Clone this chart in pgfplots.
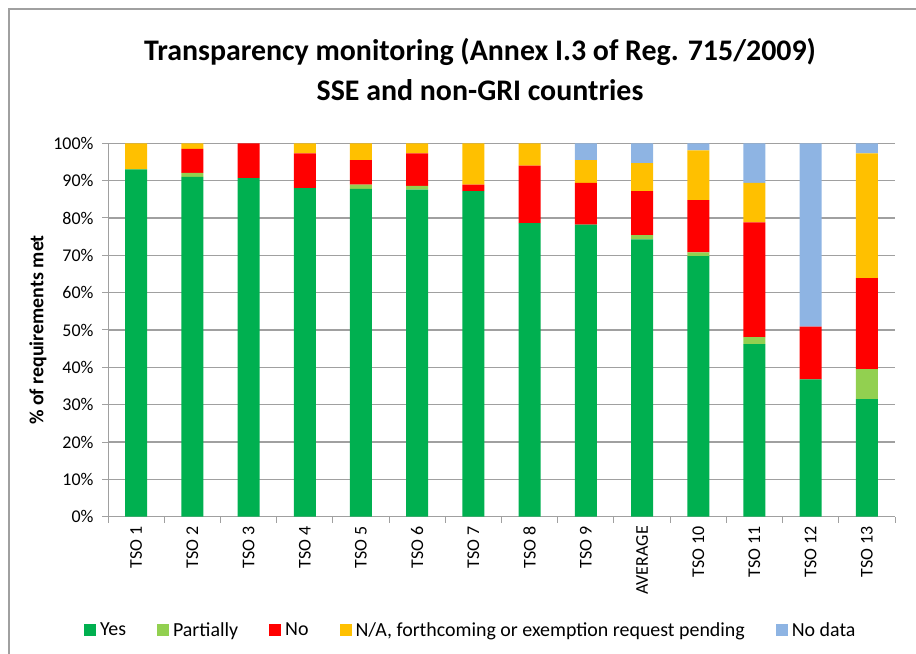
\documentclass[border=0pt]{standalone}
\usepackage{pgfplots}
\usepackage{pgfplotstable}
\pgfplotsset{compat=1.18}
\usepackage{fontspec}
\setmainfont{Carlito}
\definecolor{cyes}{HTML}{00B050}
\definecolor{cpart}{HTML}{92D050}
\definecolor{cno}{HTML}{FF0000}
\definecolor{cna}{HTML}{FFC000}
\definecolor{cnd}{HTML}{8EB4E3}
\definecolor{gridc}{HTML}{A0A0A0}
\pgfplotstableread{
x yes part no na nd
0 93.0 0 0 7.0 0
1 91.0 1.1 6.4 1.5 0
2 90.7 0 9.3 0 0
3 88.0 0 9.3 2.7 0
4 87.8 1.1 6.6 4.5 0
5 87.6 1.0 8.7 2.7 0
6 87.2 0 1.7 11.1 0
7 78.6 0 15.4 6.0 0
8 78.2 0 11.2 6.1 4.5
9 74.3 1.1 11.8 7.5 5.3
10 69.8 1.0 14.0 13.3 1.9
11 46.2 1.9 30.7 10.6 10.6
12 36.8 0 14.1 0 49.1
13 31.5 8.0 24.4 33.4 2.7
}\datatable
\begin{document}
\begin{tikzpicture}[x=1bp,y=1bp]
\path[use as bounding box] (0,0) rectangle (916,654);
\draw[gridc, line width=1.2bp] (9,0) -- (9,645) -- (916,645);
\node[font=\fontsize{30}{34}\selectfont\bfseries, align=center] at (480,654-52) {Transparency monitoring (Annex I.3 of Reg. 715/2009)};
\node[font=\fontsize{30}{34}\selectfont\bfseries, align=center] at (480,654-90) {SSE and non-GRI countries};
\begin{axis}[
  at={(108bp,137.3bp)}, anchor=south west,
  scale only axis, width=787bp, height=373.4bp,
  ybar stacked, bar width=22bp,
  xmin=-0.5, xmax=13.5, ymin=0, ymax=100,
  axis x line*=bottom, axis y line*=left,
  axis line style={gridc, line width=1bp, -},
  xtick=data,
  xticklabels={TSO 1,TSO 2,TSO 3,TSO 4,TSO 5,TSO 6,TSO 7,TSO 8,TSO 9,AVERAGE,TSO 10,TSO 11,TSO 12,TSO 13},
  x tick label style={rotate=90, anchor=east, font=\fontsize{18}{20}\selectfont},
  major x tick style={draw=none},
  minor xtick={-0.5,0.5,...,13.5},
  minor x tick style={gridc, line width=1bp},
  minor tick length=6bp,
  ytick={0,10,...,100},
  yticklabels={0\%,10\%,20\%,30\%,40\%,50\%,60\%,70\%,80\%,90\%,100\%},
  y tick label style={font=\fontsize{18}{20}\selectfont, xshift=-5bp},
  major y tick style={gridc, line width=1bp},
  major tick length=6bp,
  tick align=outside,
  ymajorgrids, grid style={gridc, line width=1.4bp},
  ylabel={\bfseries \% of requirements met},
  ylabel style={font=\fontsize{20}{22}\selectfont},
  legend columns=5,
  legend style={at={(0.461,-0.3035)}, anchor=center, draw=none, font=\fontsize{20}{22}\selectfont,
    /tikz/every even column/.append style={column sep=29bp},
    /tikz/every odd column/.append style={column sep=2bp}},
  legend image code/.code={\fill[#1] (0bp,-6bp) rectangle (12bp,6bp);},
]
\addplot[fill=cyes, draw=none] table[x=x,y=yes]{\datatable};
\addplot[fill=cpart, draw=none] table[x=x,y=part]{\datatable};
\addplot[fill=cno, draw=none] table[x=x,y=no]{\datatable};
\addplot[fill=cna, draw=none] table[x=x,y=na]{\datatable};
\addplot[fill=cnd, draw=none] table[x=x,y=nd]{\datatable};
\legend{Yes,Partially,No,{N/A, forthcoming or exemption request pending},No data}
\end{axis}
\end{tikzpicture}
\end{document}
